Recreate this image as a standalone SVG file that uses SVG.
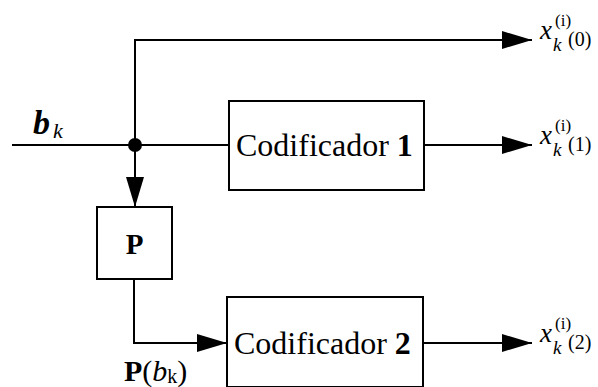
<svg xmlns="http://www.w3.org/2000/svg" width="598" height="387" viewBox="0 0 598 387">
<style>
.ln{fill:none;stroke:#000;stroke-width:2}
.box{fill:#fff;stroke:#000;stroke-width:2}
.t{font-family:"Liberation Serif","Times New Roman",serif;fill:#000}
.xo{font-size:27px;font-style:italic}
.sup{font-size:17px}
.sk{font-size:19px;font-style:italic}
.arg{font-size:20px}
</style>
<defs>
<marker id="ah" markerUnits="userSpaceOnUse" markerWidth="30" markerHeight="20" viewBox="0 0 30 20" refX="30" refY="10" orient="auto">
<path d="M0,1 L30,10 L0,19 Z" fill="#000"/>
</marker>
</defs>
<rect width="598" height="387" fill="#fff"/>
<g id="connectors">
<path class="ln" d="M12,145 H229"/>
<path class="ln" d="M135,145 V40 H532" marker-end="url(#ah)"/>
<path class="ln" d="M135,145 V207" marker-end="url(#ah)"/>
<path class="ln" d="M424,145 H532" marker-end="url(#ah)"/>
<path class="ln" d="M134,279 V343 H227" marker-end="url(#ah)"/>
<path class="ln" d="M424,343 H532" marker-end="url(#ah)"/>
<circle cx="135" cy="145" r="7" fill="#000"/>
</g>
<g id="input">
<text class="t" x="33" y="134" font-size="34" font-weight="bold" font-style="italic">b</text>
<text class="t" x="53" y="138" font-size="22" font-style="italic">k</text>
</g>
<g id="cod1">
<rect class="box" x="229" y="101" width="195" height="89"/>
<text class="t" x="236" y="156" font-size="32">Codificador <tspan font-weight="bold">1</tspan></text>
</g>
<g id="perm">
<rect class="box" x="97" y="207" width="75" height="72"/>
<text class="t" x="134.5" y="254" font-size="29" font-weight="bold" text-anchor="middle">P</text>
</g>
<g id="cod2">
<rect class="box" x="227" y="297" width="196" height="90"/>
<text class="t" x="234" y="354" font-size="32">Codificador <tspan font-weight="bold">2</tspan></text>
</g>
<g id="pbk">
<text class="t" x="124" y="381" font-size="30"><tspan font-weight="bold">P</tspan>(<tspan font-style="italic">b</tspan><tspan font-size="20" dy="2">k</tspan><tspan dy="-2">)</tspan></text>
</g>
<g id="out0">
<text class="t xo" x="540" y="39">x</text>
<text class="t sup" x="555" y="26">(i)</text>
<text class="t sk" x="553" y="51">k</text>
<text class="t arg" x="568" y="46">(0)</text>
</g>
<g id="out1">
<text class="t xo" x="540" y="144">x</text>
<text class="t sup" x="555" y="131">(i)</text>
<text class="t sk" x="553" y="156">k</text>
<text class="t arg" x="568" y="151">(1)</text>
</g>
<g id="out2">
<text class="t xo" x="540" y="342">x</text>
<text class="t sup" x="555" y="329">(i)</text>
<text class="t sk" x="553" y="354">k</text>
<text class="t arg" x="568" y="349">(2)</text>
</g>
</svg>
